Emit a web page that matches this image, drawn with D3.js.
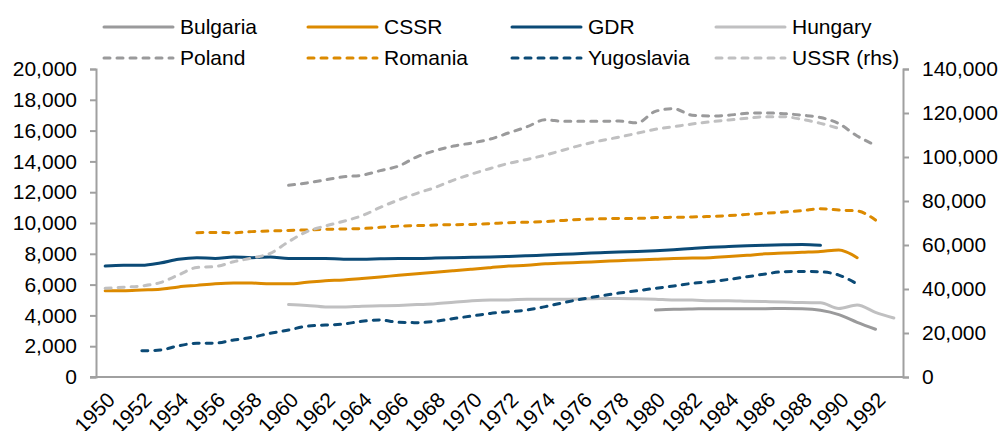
<!DOCTYPE html>
<html>
<head>
<meta charset="utf-8">
<script src="https://cdn.jsdelivr.net/npm/d3@7/dist/d3.min.js"></script>
<style>
  body { margin: 0; background: #fff; }
  svg text { font-family: "Liberation Sans", Arial, sans-serif; fill: #000; }
</style>
</head>
<body>
<div id="chart"></div>
<script>
// years on the x axis
var years = d3.range(1950, 1994);
var tickYears = d3.range(1950, 1993, 2);

// left axis series (start year + values)
var bulgariaStart = 1980;
var bulgaria = [4350, 4400, 4420, 4430, 4430, 4430, 4430, 4450, 4430, 4330, 4050, 3550, 3100];

var cssrStart = 1950;
var cssr = [5600, 5600, 5650, 5700, 5850, 5950, 6050, 6100, 6100, 6050,
            6050, 6150, 6250, 6300, 6400, 6500, 6600, 6700, 6800, 6900,
            7000, 7100, 7200, 7250, 7350, 7400, 7450, 7500, 7550, 7600,
            7650, 7700, 7720, 7750, 7820, 7900, 8000, 8050, 8100, 8150,
            8250, 7750];

var gdrStart = 1950;
var gdr = [7200, 7250, 7250, 7400, 7650, 7750, 7700, 7800, 7750, 7800,
           7700, 7700, 7700, 7650, 7650, 7680, 7700, 7700, 7720, 7750,
           7780, 7800, 7830, 7870, 7920, 7970, 8020, 8070, 8120, 8150,
           8200, 8270, 8350, 8420, 8470, 8520, 8550, 8580, 8600, 8550];

var hungaryStart = 1960;
var hungary = [4700, 4650, 4550, 4550, 4600, 4620, 4650, 4700, 4750, 4850,
               4950, 5000, 5000, 5050, 5050, 5050, 5070, 5100, 5100, 5080,
               5050, 5000, 5000, 4950, 4950, 4920, 4900, 4870, 4830, 4820,
               4450, 4670, 4200, 3830];

var polandStart = 1960;
var poland = [12450, 12600, 12800, 13000, 13100, 13400, 13700, 14300, 14700, 15000,
              15200, 15450, 15850, 16250, 16700, 16600, 16600, 16600, 16620, 16500,
              17250, 17420, 17000, 16950, 17000, 17120, 17150, 17100, 17000, 16850,
              16450, 15650, 15050];

var romaniaStart = 1955;
var romania = [9370, 9390, 9370, 9440, 9480, 9520, 9550, 9590, 9610, 9640,
               9720, 9800, 9830, 9870, 9890, 9910, 9960, 10020, 10050, 10090,
               10170, 10240, 10270, 10300, 10300, 10350, 10370, 10390, 10430, 10480,
               10560, 10630, 10710, 10800, 10930, 10840, 10780, 10190];

var yugoslaviaStart = 1952;
var yugoslavia = [1700, 1750, 2030, 2190, 2200, 2400, 2580, 2840, 3050, 3300,
                  3370, 3440, 3620, 3700, 3550, 3530, 3620, 3800, 3960, 4130,
                  4240, 4350, 4570, 4830, 5060, 5260, 5450, 5600, 5760, 5910,
                  6080, 6190, 6340, 6510, 6690, 6840, 6850, 6830, 6620, 6040];

// right axis series
var ussrStart = 1950;
var ussr = [40300, 40800, 41400, 42900, 46400, 49800, 50200, 52400, 54100, 56200,
            61500, 66100, 68600, 70800, 73300, 77100, 80500, 83500, 86200, 89500,
            92300, 94800, 97100, 98900, 100900, 103200, 105500, 107400, 109000, 110800,
            112600, 113800, 115000, 116000, 116800, 117600, 118300, 118300, 117100, 115300,
            113000];

var leftTicks = d3.range(0, 20001, 2000);
var rightTicks = d3.range(0, 140001, 20000);

var grey = "#9a9a9b", lightGrey = "#c0c0c1", orange = "#dc8a00", navy = "#0b4a76";

var series = [
  { name: "Bulgaria", start: bulgariaStart, values: bulgaria, color: grey, dash: false, axis: "left" },
  { name: "CSSR", start: cssrStart, values: cssr, color: orange, dash: false, axis: "left" },
  { name: "GDR", start: gdrStart, values: gdr, color: navy, dash: false, axis: "left" },
  { name: "Hungary", start: hungaryStart, values: hungary, color: lightGrey, dash: false, axis: "left" },
  { name: "Poland", start: polandStart, values: poland, color: grey, dash: true, axis: "left" },
  { name: "Romania", start: romaniaStart, values: romania, color: orange, dash: true, axis: "left" },
  { name: "Yugoslavia", start: yugoslaviaStart, values: yugoslavia, color: navy, dash: true, axis: "left" },
  { name: "USSR (rhs)", start: ussrStart, values: ussr, color: lightGrey, dash: true, axis: "right" }
];

var width = 1000, height = 431;
var margin = { top: 69, right: 97, bottom: 54, left: 96 };

var svg = d3.select("#chart").append("svg")
  .attr("width", width)
  .attr("height", height);

var x = d3.scaleBand()
  .domain(years)
  .range([margin.left, width - margin.right]);

var yLeft = d3.scaleLinear()
  .domain([0, 20000])
  .range([height - margin.bottom, margin.top]);

var yRight = d3.scaleLinear()
  .domain([0, 140000])
  .range([height - margin.bottom, margin.top]);

var axisColor = "#a0a0a0";

// left axis
var gLeft = svg.append("g")
  .attr("transform", "translate(" + margin.left + ",0)")
  .call(d3.axisLeft(yLeft).tickValues(leftTicks).tickSize(6).tickPadding(13)
    .tickFormat(d3.format(",")));

// right axis
var gRight = svg.append("g")
  .attr("transform", "translate(" + (width - margin.right) + ",0)")
  .call(d3.axisRight(yRight).tickValues(rightTicks).tickSize(6).tickPadding(13)
    .tickFormat(d3.format(",")));

[gLeft, gRight].forEach(function(g) {
  g.select(".domain").attr("stroke", axisColor).attr("stroke-width", 2);
  g.selectAll(".tick line").attr("stroke", axisColor).attr("stroke-width", 2);
  g.selectAll(".tick text")
    .style("font-size", "21px")
    .attr("fill", "#000");
});

// bottom axis
svg.append("line")
  .attr("x1", margin.left - 6)
  .attr("x2", width - margin.right)
  .attr("y1", yLeft(0))
  .attr("y2", yLeft(0))
  .attr("stroke", axisColor)
  .attr("stroke-width", 2);

// rotated year labels, every second year (they run off the bottom edge as in the original)
svg.selectAll(".xlabel")
  .data(tickYears)
  .enter()
  .append("text")
  .attr("class", "xlabel")
  .attr("text-anchor", "end")
  .style("font-size", "21px")
  .attr("transform", function(d) {
    var cx = x(d) + x.bandwidth() / 2;
    return "translate(" + (cx + 6) + "," + (yLeft(0) + 19) + ") rotate(-45)";
  })
  .attr("dy", "0.35em")
  .text(function(d) { return d; });

var line = d3.line()
  .x(function(d) { return x(d.year) + x.bandwidth() / 2; })
  .y(function(d) { return d.y; })
  .curve(d3.curveMonotoneX);

series.forEach(function(s) {
  var sc = s.axis == "left" ? yLeft : yRight;
  var pts = s.values.map(function(v, i) { return { year: s.start + i, y: sc(v) }; });
  svg.append("path")
    .datum(pts)
    .attr("fill", "none")
    .attr("stroke", s.color)
    .attr("stroke-width", 3)
    .attr("stroke-linecap", "round")
    .attr("stroke-dasharray", s.dash ? "6,7" : null)
    .attr("d", line);
});

// legend
var legend = svg.selectAll(".legend")
  .data(series)
  .enter()
  .append("g")
  .attr("class", "legend")
  .attr("transform", function(d, i) {
    return "translate(" + (104 + (i % 4) * 204) + "," + (27 + Math.floor(i / 4) * 31) + ")";
  });

legend.append("line")
  .attr("x1", 0)
  .attr("x2", 69)
  .attr("stroke", function(d) { return d.color; })
  .attr("stroke-width", 3)
  .attr("stroke-linecap", "round")
  .attr("stroke-dasharray", function(d) { return d.dash ? "6,7" : null; });

legend.append("text")
  .attr("x", 76)
  .attr("dy", "0.35em")
  .style("font-size", "21px")
  .text(function(d) { return d.name; });
</script>
</body>
</html>
